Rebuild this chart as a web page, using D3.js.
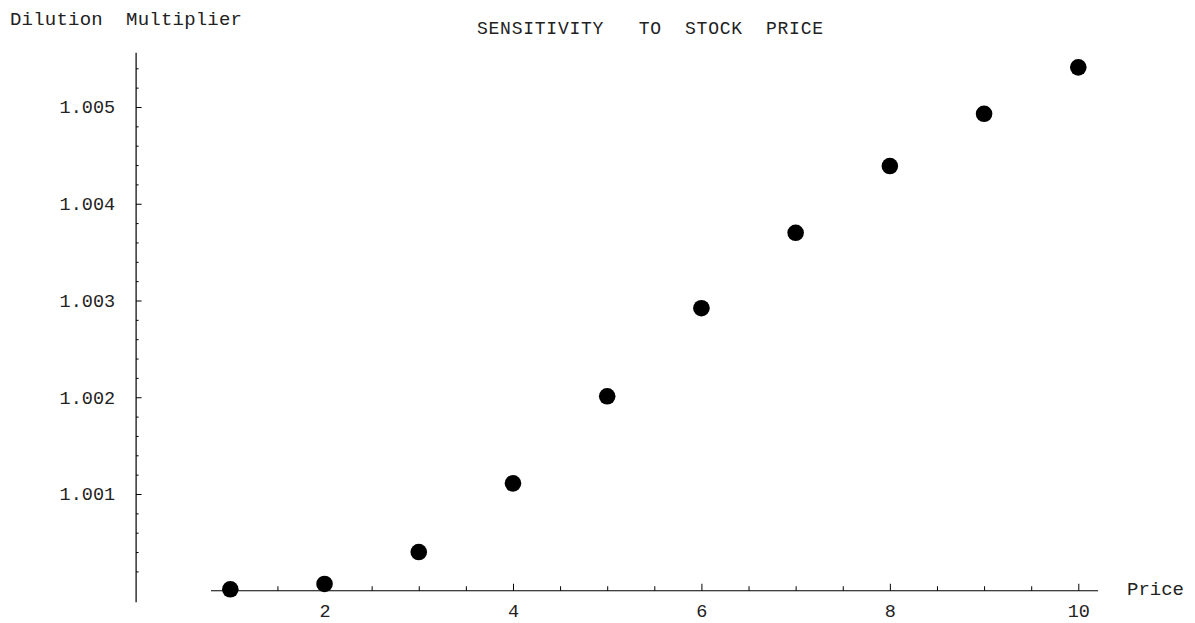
<!DOCTYPE html>
<html>
<head>
<meta charset="utf-8">
<script src="https://cdn.jsdelivr.net/npm/d3@7"></script>
<style>
  html, body { margin: 0; padding: 0; background: #fff; }
  svg { display: block; }
  text { font-family: "Liberation Mono", "Courier New", monospace; fill: #222; white-space: pre; }
</style>
</head>
<body>
<svg id="chart" width="1195" height="623"></svg>
<script>
// ---- data ----
const prices = [1, 2, 3, 4, 5, 6, 7, 8, 9, 10];
const multipliers = [1.000015, 1.00007, 1.0004, 1.00111, 1.00201, 1.00292, 1.0037, 1.00439, 1.00493, 1.00541];
const xMajorTicks = [2, 4, 6, 8, 10];
const xMinorTicks = [1, 1.5, 2.5, 3, 3.5, 4.5, 5, 5.5, 6.5, 7, 7.5, 8.5, 9, 9.5];
const yMajorTicks = [1.001, 1.002, 1.003, 1.004, 1.005];
const yMajorLabels = ["1.001", "1.002", "1.003", "1.004", "1.005"];
const yMinorTicks = [1.0002, 1.0004, 1.0006, 1.0008, 1.0012, 1.0014, 1.0016, 1.0018,
  1.0022, 1.0024, 1.0026, 1.0028, 1.0032, 1.0034, 1.0036, 1.0038,
  1.0042, 1.0044, 1.0046, 1.0048, 1.0052, 1.0054];
const xAxisExtent = [0.795, 10.21];
const yAxisExtent = [0.99988, 1.00556];
const xAxisAt = 1.0;   // y value where the horizontal axis sits
const yAxisAt = 0;     // x value where the vertical axis sits
const title = "SENSITIVITY   TO  STOCK  PRICE";
const xLabel = "Price";
const yLabel = "Dilution  Multiplier";

// ---- scales ----
const svg = d3.select("#chart");
const x = d3.scaleLinear().domain([0, 10]).range([136.1, 1078.3]);
const y = d3.scaleLinear().domain([1.0, 1.005]).range([590.75, 107]);

const axisColor = "#000";
const labelColor = "#333";

// ---- x axis ----
const gx = svg.append("g").attr("transform", `translate(0,${y(xAxisAt)})`);
gx.append("line")
  .attr("x1", x(xAxisExtent[0])).attr("x2", x(xAxisExtent[1]))
  .attr("stroke", axisColor).attr("stroke-width", 1.2);
gx.append("g")
  .call(d3.axisBottom(x).tickValues(xMinorTicks).tickSizeInner(-4.5).tickSizeOuter(0).tickFormat(""))
  .call(g => g.select(".domain").remove())
  .call(g => g.selectAll("line").attr("stroke", axisColor));
gx.append("g")
  .call(d3.axisBottom(x).tickValues(xMajorTicks).tickSizeInner(-7).tickSizeOuter(0).tickPadding(13).tickFormat(d3.format("d")))
  .call(g => g.select(".domain").remove())
  .call(g => g.selectAll("line").attr("stroke", axisColor))
  .call(g => g.selectAll("text").attr("font-size", 18.5).attr("font-family", null).attr("fill", labelColor));
gx.append("text")
  .attr("x", 1127).attr("y", 4)
  .attr("font-size", 19)
  .attr("fill", labelColor)
  .text(xLabel);

// ---- y axis ----
const gy = svg.append("g").attr("transform", `translate(${x(yAxisAt)},0)`);
gy.append("line")
  .attr("y1", y(yAxisExtent[0])).attr("y2", y(yAxisExtent[1]))
  .attr("stroke", axisColor).attr("stroke-width", 1.2);
gy.append("g")
  .call(d3.axisLeft(y).tickValues(yMinorTicks).tickSizeInner(-2.5).tickSizeOuter(0).tickFormat(""))
  .call(g => g.select(".domain").remove())
  .call(g => g.selectAll("line").attr("stroke", axisColor));
gy.append("g")
  .call(d3.axisLeft(y).tickValues(yMajorTicks).tickSizeInner(-5.5).tickSizeOuter(0).tickPadding(21)
    .tickFormat((d, i) => yMajorLabels[i]))
  .call(g => g.select(".domain").remove())
  .call(g => g.selectAll("line").attr("stroke", axisColor))
  .call(g => g.selectAll("text").attr("font-size", 18.5).attr("font-family", null).attr("fill", labelColor));

svg.append("text")
  .attr("x", 10).attr("y", 25)
  .attr("font-size", 19)
  .attr("fill", labelColor)
  .attr("textLength", 232).attr("lengthAdjust", "spacing")
  .text(yLabel);

// ---- title ----
svg.append("text")
  .attr("x", 477).attr("y", 34)
  .attr("font-size", 18)
  .attr("fill", labelColor)
  .attr("textLength", 346).attr("lengthAdjust", "spacing")
  .text(title);

// ---- points ----
svg.append("g")
  .selectAll("circle")
  .data(prices.map((p, i) => [p, multipliers[i]]))
  .join("circle")
  .attr("cx", d => x(d[0]))
  .attr("cy", d => y(d[1]))
  .attr("r", 8.3)
  .attr("fill", "#000");
</script>
</body>
</html>
